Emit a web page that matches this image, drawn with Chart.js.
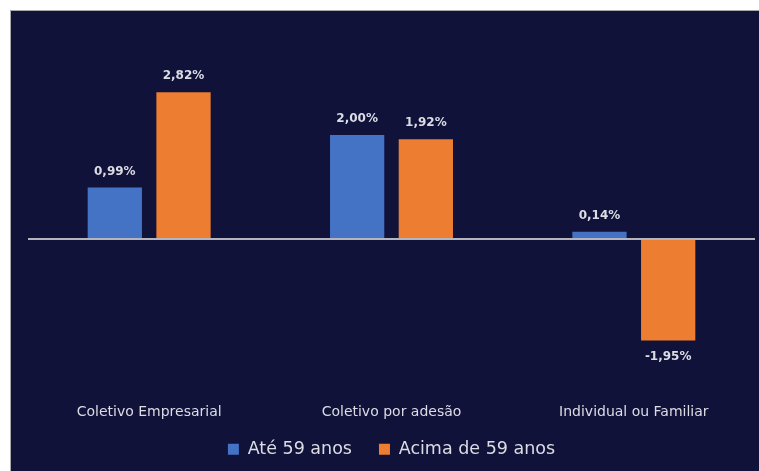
<!DOCTYPE html>
<html>
<head>
<meta charset="utf-8">
<script src="https://cdn.jsdelivr.net/npm/chart.js@4/dist/chart.umd.min.js"></script>
<style>
  body { margin: 0; background: #fff; }
  #box {
    position: absolute; left: 10px; top: 10px;
    width: 749px; height: 461px;
    background: #10123a;
    border-left: 1px solid #a8a8a8;
    border-top: 1px solid #a8a8a8;
  }
  canvas { display: block; }
</style>
</head>
<body>
<div id="box"><canvas id="myChart" width="749" height="461"></canvas></div>
<script>
// categories and series
let categories = ["Coletivo Empresarial", "Coletivo por adesão", "Individual ou Familiar"];
let ate59 = [0.99, 2.00, 0.14];
let acima59 = [2.82, 1.92, -1.95];
let seriesNames = ["Até 59 anos", "Acima de 59 anos"];

let textColor = "#dcdce4";
let fontFamily = "'DejaVu Sans', sans-serif";

// writes the value over (or under) each bar
const valueLabels = {
    id: "valueLabels",
    afterDatasetsDraw(chart) {
        let ctx = chart.ctx;
        ctx.save();
        ctx.fillStyle = textColor;
        ctx.font = "bold 12px " + fontFamily;
        ctx.textAlign = "center";
        ctx.textBaseline = "middle";
        chart.data.datasets.forEach((dataset, i) => {
            chart.getDatasetMeta(i).data.forEach((bar, j) => {
                let v = dataset.data[j];
                let txt = v.toFixed(2).replace(".", ",") + "%";
                let y = v >= 0 ? bar.y - 16 : bar.y + 16;
                ctx.fillText(txt, bar.x, y);
            });
        });
        ctx.restore();
    },
};

// x labels hang a bit below their box, so let them draw there
const looseXLabels = {
    id: "looseXLabels",
    afterLayout(chart) {
        chart.scales.x.bottom += 16;
    },
};

const data = {
    labels: categories,
    datasets: [
        {
            label: seriesNames[0],
            data: ate59,
            backgroundColor: "#4472c4",
            categoryPercentage: 0.567,
            barPercentage: 0.79,
        },
        {
            label: seriesNames[1],
            data: acima59,
            backgroundColor: "#ed7d31",
            categoryPercentage: 0.567,
            barPercentage: 0.79,
        },
    ],
};

const config = {
    type: "bar",
    data: data,
    plugins: [valueLabels, looseXLabels],
    options: {
        responsive: false,
        animation: false,
        layout: {
            padding: { top: 46, left: 17, right: 5, bottom: 4 },
        },
        plugins: {
            tooltip: { enabled: false },
            legend: {
                position: "bottom",
                labels: {
                    color: textColor,
                    font: { family: fontFamily, size: 17.5 },
                    boxWidth: 11,
                    boxHeight: 11,
                    padding: 27,
                },
            },
        },
        scales: {
            x: {
                grid: { display: false, drawTicks: false },
                border: { display: false },
                ticks: {
                    color: textColor,
                    font: { family: fontFamily, size: 14 },
                    padding: 24,
                },
                afterFit: (axis) => {
                    axis.height = 34;
                },
            },
            y: {
                min: -2.7,
                max: 3.5,
                border: { display: false },
                grid: {
                    drawTicks: false,
                    lineWidth: 2,
                    color: (c) => (c.tick && c.tick.value === 0 ? "#b4b4bc" : "rgba(0,0,0,0)"),
                },
                ticks: { display: false, stepSize: 0.5 },
            },
        },
    },
};

const myChart = new Chart(document.getElementById("myChart"), config);
</script>
</body>
</html>
